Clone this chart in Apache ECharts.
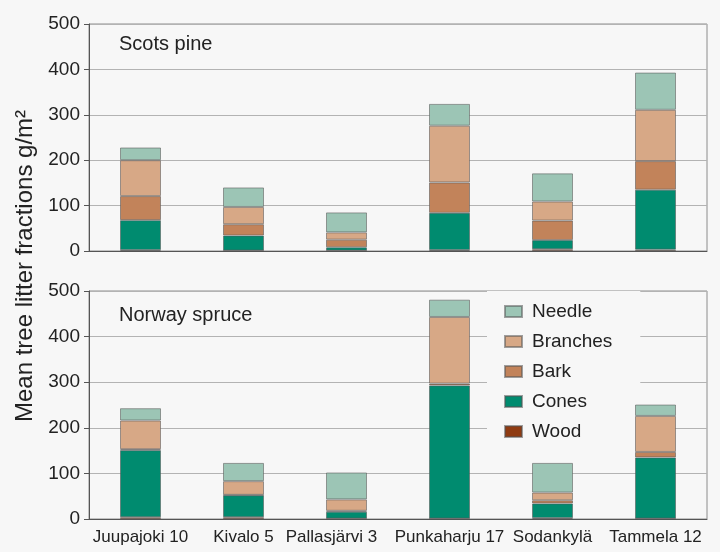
<!DOCTYPE html>
<html>
<head>
<meta charset="utf-8">
<title>Mean tree litter fractions</title>
<script src="https://cdn.jsdelivr.net/npm/echarts@6/dist/echarts.min.js"></script>
<style>
  html, body { margin: 0; padding: 0; background: #f7f7f7; }
  #chart { width: 720px; height: 552px; }
</style>
</head>
<body>
<div id="chart"></div>
<script>
// Sites (common to both panels)
const sites = ['Juupajoki 10', 'Kivalo 5', 'Pallasjärvi 3', 'Punkaharju 17', 'Sodankylä', 'Tammela 12'];
const yTicks = [0, 100, 200, 300, 400, 500];

// Litter fractions, g/m², Scots pine
const pineWood     = [2, 1, 1, 2, 4, 3];
const pineCones    = [66, 33, 7, 82, 20, 132];
const pineBark     = [53, 25, 17, 67, 43, 63];
const pineBranches = [79, 38, 16, 125, 42, 113];
const pineNeedle   = [28, 43, 44, 48, 62, 82];

// Litter fractions, g/m², Norway spruce
const spruceWood     = [4, 4, 1, 1, 2, 1];
const spruceCones    = [147, 48, 15, 292, 32, 134];
const spruceBark     = [2, 1, 2, 4, 7, 12];
const spruceBranches = [63, 30, 25, 146, 17, 79];
const spruceNeedle   = [27, 40, 59, 38, 65, 25];

const fractionNames = ['Needle', 'Branches', 'Bark', 'Cones', 'Wood'];
const colors = {
  Needle: '#9cc5b5',
  Branches: '#d7a886',
  Bark: '#c2835a',
  Cones: '#008b6f',
  Wood: '#8f3b12'
};

const FONT = '"Liberation Sans", Arial, sans-serif';

const chart = echarts.init(document.getElementById('chart'));

function makeSeries(name, data, idx, stack) {
  return {
    name: name,
    type: 'bar',
    stack: stack,
    xAxisIndex: idx,
    yAxisIndex: idx,
    data: data,
    barWidth: 41,
    itemStyle: {
      color: colors[name],
      borderColor: 'rgba(85,85,85,0.55)',
      borderWidth: 1
    },
    emphasis: { disabled: true }
  };
}

function yAxis(gridIndex) {
  return {
    type: 'value',
    gridIndex: gridIndex,
    min: yTicks[0],
    max: yTicks[yTicks.length - 1],
    interval: yTicks[1] - yTicks[0],
    axisLine: { show: true, lineStyle: { color: '#555', width: 1 } },
    axisTick: { show: true, length: 5, lineStyle: { color: '#555' } },
    axisLabel: { margin: 9, color: '#222', fontSize: 19, fontFamily: FONT },
    splitLine: { show: true, lineStyle: { color: '#b3b3b3', width: 1 } }
  };
}

// The long third site name is nudged left so it clears its neighbour
const categoryData = sites.map(function (s, i) {
  return i === 2 ? { value: s, textStyle: { padding: [0, 30, 0, 0] } } : s;
});

function xAxis(gridIndex, showLabels) {
  return {
    type: 'category',
    gridIndex: gridIndex,
    data: categoryData,
    axisLine: { show: true, lineStyle: { color: '#555', width: 1 } },
    axisTick: { show: false },
    axisLabel: {
      show: showLabels, interval: 0, margin: 10,
      color: '#222', fontSize: 17, fontFamily: FONT
    }
  };
}

const option = {
  backgroundColor: '#f7f7f7',
  animation: false,
  grid: [
    { left: 89, right: 13, top: 24, height: 227, show: true, borderColor: '#8c8c8c', borderWidth: 1, backgroundColor: 'transparent' },
    { left: 89, right: 13, top: 291, height: 228, show: true, borderColor: '#8c8c8c', borderWidth: 1, backgroundColor: 'transparent' }
  ],
  xAxis: [xAxis(0, false), xAxis(1, true)],
  yAxis: [yAxis(0), yAxis(1)],
  legend: {
    data: fractionNames,
    orient: 'vertical',
    left: 487,
    top: 291,
    z: 1,
    backgroundColor: '#f7f7f7',
    padding: [10, 28, 8, 17],
    itemWidth: 17,
    itemHeight: 11,
    itemGap: 9,
    icon: 'rect',
    selectedMode: false,
    textStyle: { color: '#222', fontSize: 19, fontFamily: FONT, lineHeight: 21, padding: [0, 0, 0, 5] }
  },
  graphic: [
    {
      type: 'text', left: 119, top: 34,
      style: { text: 'Scots pine', fill: '#222', font: '20px ' + FONT }
    },
    {
      type: 'text', left: 119, top: 305,
      style: { text: 'Norway spruce', fill: '#222', font: '20px ' + FONT }
    },
    {
      type: 'text', x: 25, y: 266, rotation: Math.PI / 2,
      style: {
        text: 'Mean tree litter fractions g/m²', fill: '#222',
        font: '24px ' + FONT, align: 'center', verticalAlign: 'middle'
      }
    }
  ],
  series: [
    makeSeries('Wood', pineWood, 0, 'pine'),
    makeSeries('Cones', pineCones, 0, 'pine'),
    makeSeries('Bark', pineBark, 0, 'pine'),
    makeSeries('Branches', pineBranches, 0, 'pine'),
    makeSeries('Needle', pineNeedle, 0, 'pine'),
    makeSeries('Wood', spruceWood, 1, 'spruce'),
    makeSeries('Cones', spruceCones, 1, 'spruce'),
    makeSeries('Bark', spruceBark, 1, 'spruce'),
    makeSeries('Branches', spruceBranches, 1, 'spruce'),
    makeSeries('Needle', spruceNeedle, 1, 'spruce')
  ]
};

chart.setOption(option);
</script>
</body>
</html>
